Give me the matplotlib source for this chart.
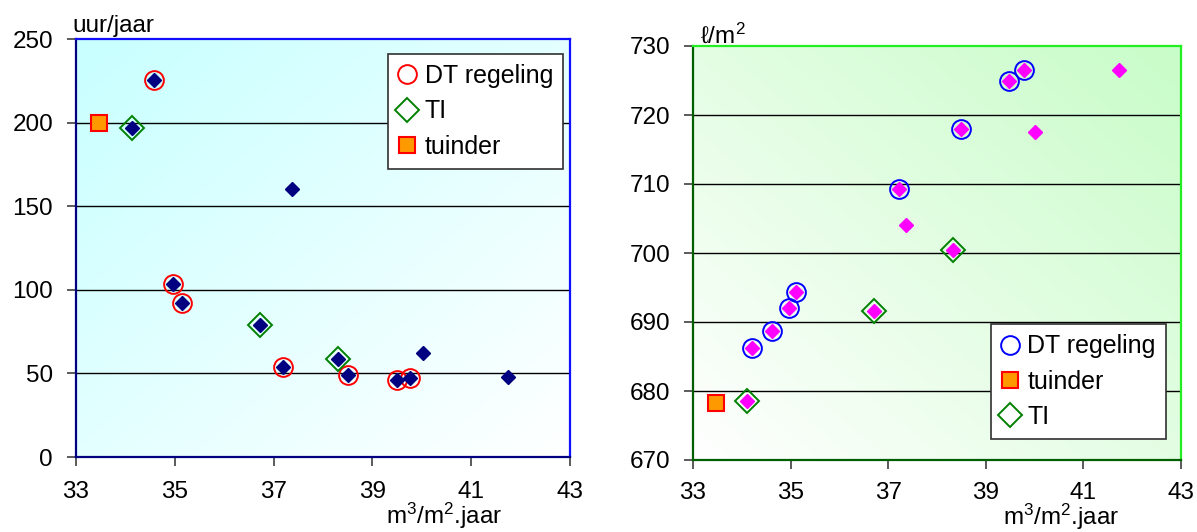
import numpy as np
import matplotlib
matplotlib.use("Agg")
import matplotlib.pyplot as plt
from matplotlib.colors import LinearSegmentedColormap

plt.rcParams['font.family'] = ['Liberation Sans', 'DejaVu Sans']
plt.rcParams['mathtext.fontset'] = 'custom'
plt.rcParams['mathtext.rm'] = 'Liberation Sans'
plt.rcParams['mathtext.it'] = 'Liberation Sans'

# ---------------- data ----------------
# left panel: uur/jaar
all_x_left = [34.58, 34.14, 34.97, 35.14, 37.37, 36.72, 37.20, 38.31, 38.50, 39.50, 39.76, 40.02, 41.74]
all_y_left = [225.4, 196.5, 103.7, 92.3, 160.0, 78.7, 53.7, 58.5, 49.2, 46.1, 47.2, 62.0, 48.0]
dt_x_left = [34.58, 34.97, 35.14, 37.20, 38.50, 39.50, 39.76]
dt_y_left = [225.4, 103.7, 92.3, 53.7, 49.2, 46.1, 47.2]
ti_x_left = [34.14, 36.72, 38.31]
ti_y_left = [196.5, 78.7, 58.5]
tuinder_x_left = [33.46]
tuinder_y_left = [199.8]

# right panel: l/m2
all_x_right = [34.21, 34.61, 34.96, 35.12, 37.22, 37.36, 38.32, 36.70, 38.50, 39.48, 39.78, 40.01, 41.72, 34.11]
all_y_right = [686.3, 688.7, 692.1, 694.3, 709.3, 704.0, 700.5, 691.6, 717.9, 724.9, 726.5, 717.6, 726.5, 678.6]
dt_x_right = [34.21, 34.61, 34.96, 35.12, 37.22, 38.50, 39.48, 39.78]
dt_y_right = [686.3, 688.7, 692.1, 694.3, 709.3, 717.9, 724.9, 726.5]
ti_x_right = [34.11, 36.70, 38.32]
ti_y_right = [678.6, 691.6, 700.5]
tuinder_x_right = [33.47]
tuinder_y_right = [678.3]

x_ticks = [33, 35, 37, 39, 41, 43]
y_ticks_left = [0, 50, 100, 150, 200, 250]
y_ticks_right = [670, 680, 690, 700, 710, 720, 730]

FS = 17.5
FS_LEG = 18

fig = plt.figure(figsize=(11.97, 5.32), dpi=100)
axL = fig.add_axes([76/1197, 1-457/532, 494/1197, 418/532])
axR = fig.add_axes([693/1197, 1-460/532, 488/1197, 414/532])


def gradient(ax, c_start, c_end, direction):
    n = 200
    xx, yy = np.meshgrid(np.linspace(0, 1, n), np.linspace(0, 1, n))
    if direction == 'tl':   # strongest at top-left
        g = ((1 - xx) + yy) / 2
    else:                   # strongest at top-right
        g = (xx + yy) / 2
    cmap = LinearSegmentedColormap.from_list('g', [c_end, c_start])
    ax.imshow(g, extent=[0, 1, 0, 1], transform=ax.transAxes, origin='lower',
              cmap=cmap, aspect='auto', zorder=0, interpolation='bilinear')


def style(ax, yticks, ylim, spine_left, spine_other, spine_bottom, xpad):
    ax.set_xlim(33, 43)
    ax.set_ylim(*ylim)
    ax.set_xticks(x_ticks)
    ax.set_yticks(yticks)
    ax.tick_params(axis='both', direction='out', length=6.5, width=1.2,
                   color='#404040', labelsize=FS)
    ax.tick_params(axis='y', pad=10)
    ax.tick_params(axis='x', pad=xpad)
    for yv in yticks[1:-1]:
        ax.axhline(yv, color='black', lw=1.0, zorder=1)
    ax.spines['left'].set_color(spine_left)
    ax.spines['top'].set_color(spine_other)
    ax.spines['right'].set_color(spine_other)
    ax.spines['bottom'].set_color(spine_bottom)
    for s in ax.spines.values():
        s.set_linewidth(1.6)
        s.set_zorder(5)


XLABEL = r'm$^{3}$/m$^{2}$.jaar'
LEG_KW = dict(fontsize=FS_LEG, frameon=True, fancybox=False, edgecolor='#303030',
              framealpha=1, handlelength=0.7, handletextpad=0.35, borderpad=0.4,
              labelspacing=0.45, borderaxespad=0.0)

# ---- left panel ----
gradient(axL, '#c8ffff', '#ffffff', 'tl')
style(axL, y_ticks_left, (0, 250), '#000080', '#1010ff', '#000080', 10.5)
hT, = axL.plot(tuinder_x_left, tuinder_y_left, 's', ms=11.5, mfc='#ff9900', mec='#ff0000', mew=1.5, zorder=3, label='tuinder')
hD, = axL.plot(dt_x_left, dt_y_left, 'o', ms=13.5, mfc='none', mec='#ff0000', mew=1.4, zorder=3, label='DT regeling')
hI, = axL.plot(ti_x_left, ti_y_left, 'D', ms=12.5, mfc='none', mec='#008000', mew=1.4, zorder=3, label='TI')
axL.plot(all_x_left, all_y_left, 'D', ms=7.5, mfc='#000080', mec='#000080', zorder=4)
legL = axL.legend(handles=[hD, hI, hT], loc='upper right', bbox_to_anchor=(0.986, 0.964), **LEG_KW)
legL.get_frame().set_linewidth(1.2)
fig.text(72/1197, 1-32/532, 'uur/jaar', fontsize=FS, ha='left', va='baseline')
fig.text(444/1197, 1-524/532, XLABEL, fontsize=FS, ha='center', va='baseline')

# ---- right panel ----
gradient(axR, '#c8fcc8', '#ffffff', 'tr')
style(axR, y_ticks_right, (670, 730), '#006000', '#22ee22', '#006000', 9.5)
hT2, = axR.plot(tuinder_x_right, tuinder_y_right, 's', ms=11.5, mfc='#ff9900', mec='#ff0000', mew=1.5, zorder=3, label='tuinder')
hD2, = axR.plot(dt_x_right, dt_y_right, 'o', ms=13.5, mfc='none', mec='#0000ff', mew=1.4, zorder=3, label='DT regeling')
hI2, = axR.plot(ti_x_right, ti_y_right, 'D', ms=12.5, mfc='none', mec='#008000', mew=1.4, zorder=3, label='TI')
axR.plot(all_x_right, all_y_right, 'D', ms=7.5, mfc='#ff00ff', mec='#ff00ff', zorder=4)
legR = axR.legend(handles=[hD2, hT2, hI2], loc='lower right', bbox_to_anchor=(0.969, 0.051), **LEG_KW)
legR.get_frame().set_linewidth(1.2)
fig.text(700/1197, 1-43/532, r'ℓ/m$^{2}$', fontsize=FS, ha='left', va='baseline')
fig.text(1061/1197, 1-525/532, XLABEL, fontsize=FS, ha='center', va='baseline')

fig.savefig('out.png', dpi=100)
